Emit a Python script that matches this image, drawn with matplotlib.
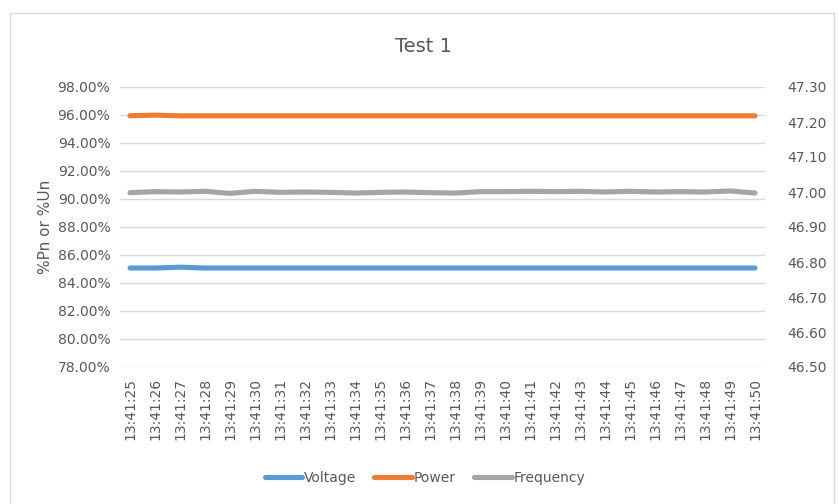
import matplotlib
matplotlib.use("Agg")
import matplotlib.pyplot as plt
from matplotlib.patches import Rectangle
from matplotlib.ticker import FuncFormatter, MultipleLocator

# time stamps (one sample per second)
times = ["13:41:%02d" % s for s in range(25, 51)]

# % of nominal
voltage = [85.07, 85.07, 85.13, 85.07, 85.07, 85.07, 85.07, 85.07, 85.07, 85.07,
           85.07, 85.07, 85.07, 85.07, 85.07, 85.07, 85.07, 85.07, 85.07, 85.07,
           85.07, 85.07, 85.07, 85.07, 85.07, 85.07]
power = [95.95, 95.99, 95.94, 95.94, 95.94, 95.94, 95.94, 95.94, 95.94, 95.94,
         95.94, 95.94, 95.94, 95.94, 95.94, 95.94, 95.94, 95.94, 95.94, 95.94,
         95.94, 95.94, 95.94, 95.94, 95.94, 95.94]
# Hz
frequency = [46.998, 47.001, 47.000, 47.002, 46.996, 47.002, 46.999, 47.000, 46.999, 46.997,
             46.999, 47.000, 46.998, 46.997, 47.001, 47.001, 47.002, 47.001, 47.002, 47.000,
             47.002, 47.000, 47.001, 47.000, 47.003, 46.997]

grey_txt = "#595959"
plt.rcParams['font.family'] = ['DejaVu Sans']

fig = plt.figure(figsize=(8.38, 5.04), dpi=100)
ax = fig.add_axes([120 / 838, 1 - 367 / 504, 645 / 838, 280 / 504])
ax2 = ax.twinx()

# chart border
fig.patches.append(Rectangle((10 / 838, -0.05), 824 / 838, 1.05 - 12.5 / 504,
                             transform=fig.transFigure, fill=False,
                             edgecolor="#d9d9d9", lw=1))

x = list(range(len(times)))
style = dict(lw=3.7, solid_capstyle="round", solid_joinstyle="round")
l1, = ax.plot(x, voltage, color="#5B9BD5", **style)
l2, = ax.plot(x, power, color="#ED7D31", **style)
l3, = ax2.plot(x, frequency, color="#A5A5A5", **style)

ax.set_xlim(-0.4, len(times) - 0.6)
ax.set_ylim(78, 98)
ax.yaxis.set_major_locator(MultipleLocator(2))
ax.yaxis.set_major_formatter(FuncFormatter(lambda v, p: "%.2f%%" % v))
ax.grid(axis="y", color="#d9d9d9", lw=1)
ax.set_axisbelow(True)

ax2.set_ylim(46.5, 47.3)
ax2.yaxis.set_major_locator(MultipleLocator(0.1))
ax2.yaxis.set_major_formatter(FuncFormatter(lambda v, p: "%.2f" % v))

ax.set_xticks(x)
ax.set_xticklabels(times, rotation=90)

for a in (ax, ax2):
    for s in a.spines.values():
        s.set_visible(False)
ax.tick_params(axis="y", length=0, pad=7, labelsize=10, labelcolor=grey_txt)
ax.tick_params(axis="x", length=0, pad=8, labelsize=10, labelcolor=grey_txt)
ax2.tick_params(axis="y", length=0, pad=16, labelsize=10, labelcolor=grey_txt)

ax.set_ylabel("%Pn or %Un", fontsize=11, color=grey_txt, labelpad=3)
fig.text(423 / 838, 1 - 46 / 504, "Test 1", ha="center", va="center",
         fontsize=14, color=grey_txt)

fig.legend([l1, l2, l3], ["Voltage", "Power", "Frequency"], loc="center",
           bbox_to_anchor=(425 / 838, 1 - 478 / 504), ncol=3, frameon=False,
           fontsize=10, labelcolor=grey_txt, handlelength=2.7,
           handletextpad=0.15, columnspacing=1.3)

fig.savefig("out.png", dpi=100)
